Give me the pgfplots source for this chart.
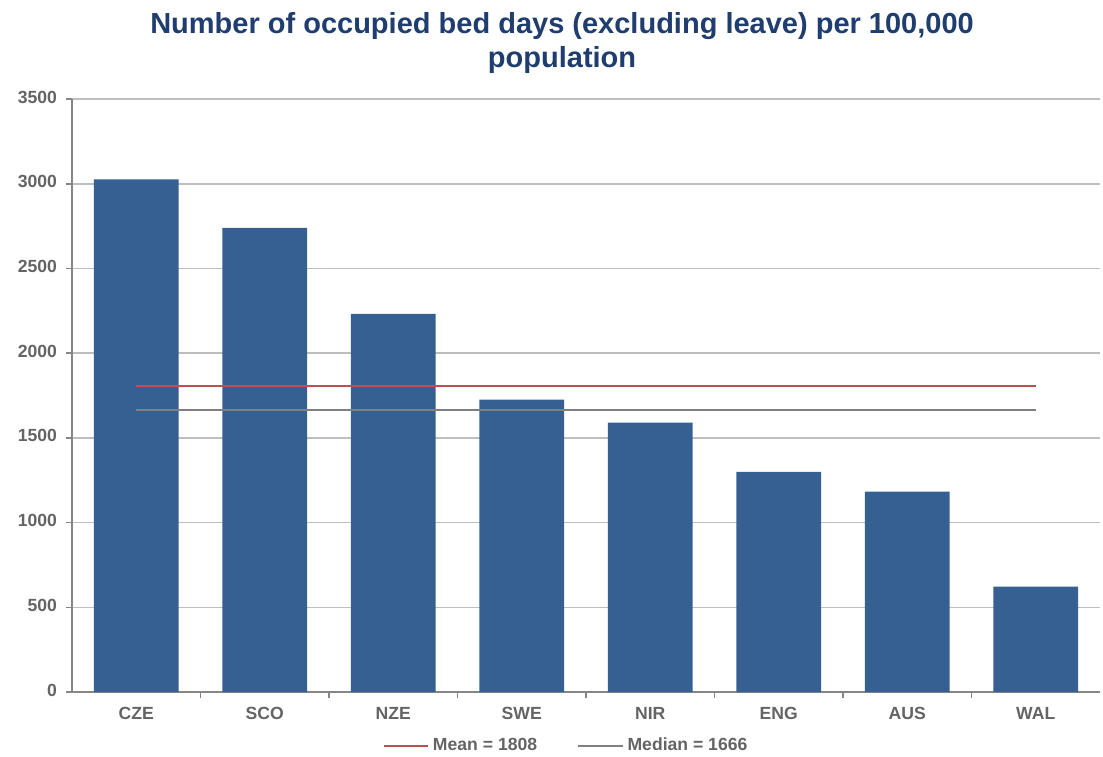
\documentclass[border=0pt]{standalone}
\usepackage{pgfplots}
\pgfplotsset{compat=1.18}
\usepackage{fontspec}
\setmainfont{Liberation Sans}
\definecolor{barblue}{RGB}{54,96,146}
\definecolor{titleblue}{RGB}{31,61,110}
\definecolor{meanred}{RGB}{192,80,77}
\definecolor{medgray}{RGB}{128,128,128}
\definecolor{axisgray}{RGB}{134,134,134}
\definecolor{gridgray}{RGB}{190,190,190}
\definecolor{labgray}{RGB}{100,100,100}
\begin{document}
\begin{tikzpicture}
\begin{axis}[
  width=514pt, height=296.5pt, scale only axis,
  xmin=-0.5, xmax=7.5, ymin=0, ymax=3500,
  ytick={0,500,...,3500},
  xtick={0,...,7},
  xticklabels={CZE,SCO,NZE,SWE,NIR,ENG,AUS,WAL},
  minor xtick={0.5,1.5,...,6.5},
  axis lines=left,
  axis line style={draw=axisgray, line width=0.8pt, -},
  ymajorgrids, grid style={gridgray, line width=0.8pt},
  tick style={axisgray, line width=0.8pt},
  major x tick style={draw=none},
  tick align=outside, major tick length=3pt, minor tick length=3pt,
  ticklabel style={font=\fontsize{8.8}{10}\selectfont\bfseries, text=labgray},
  typeset ticklabels with strut,
  /pgf/number format/assume math mode=true,
  /pgf/number format/1000 sep={},
  yticklabel style={xshift=-1pt},
  title={Number of occupied bed days (excluding leave) per 100,000\\population},
  title style={at={(0.4767,1.0742)}, anchor=center, align=center,
    font=\fontsize{14.5}{17}\selectfont\bfseries, text=titleblue},
  legend columns=2,
  legend style={at={(0.4815,-0.091)}, anchor=center, draw=none, fill=none,
    font=\fontsize{8.8}{10}\selectfont\bfseries, text=labgray,
    /tikz/every even column/.append style={column sep=18pt}},
  legend image code/.code={\draw[#1] (0cm,0cm) -- (0.78cm,0cm);},
]
\addplot[ybar, bar width=0.66, fill=barblue, draw=none, forget plot]
  coordinates {(0,3025) (1,2740) (2,2232) (3,1726) (4,1590) (5,1300) (6,1182) (7,622)};
\addplot[meanred, line width=1pt] coordinates {(0,1808) (7,1808)};
\addlegendentry{Mean = 1808}
\addplot[medgray, line width=1pt] coordinates {(0,1666) (7,1666)};
\addlegendentry{Median = 1666}
\coordinate (ll) at (rel axis cs:0,0);
\coordinate (ur) at (rel axis cs:1,1);
\end{axis}
\pgfresetboundingbox
\path ([xshift=-36pt,yshift=-32pt]ll) rectangle ([xshift=1.5pt,yshift=49.5pt]ur);
\end{tikzpicture}
\end{document}
